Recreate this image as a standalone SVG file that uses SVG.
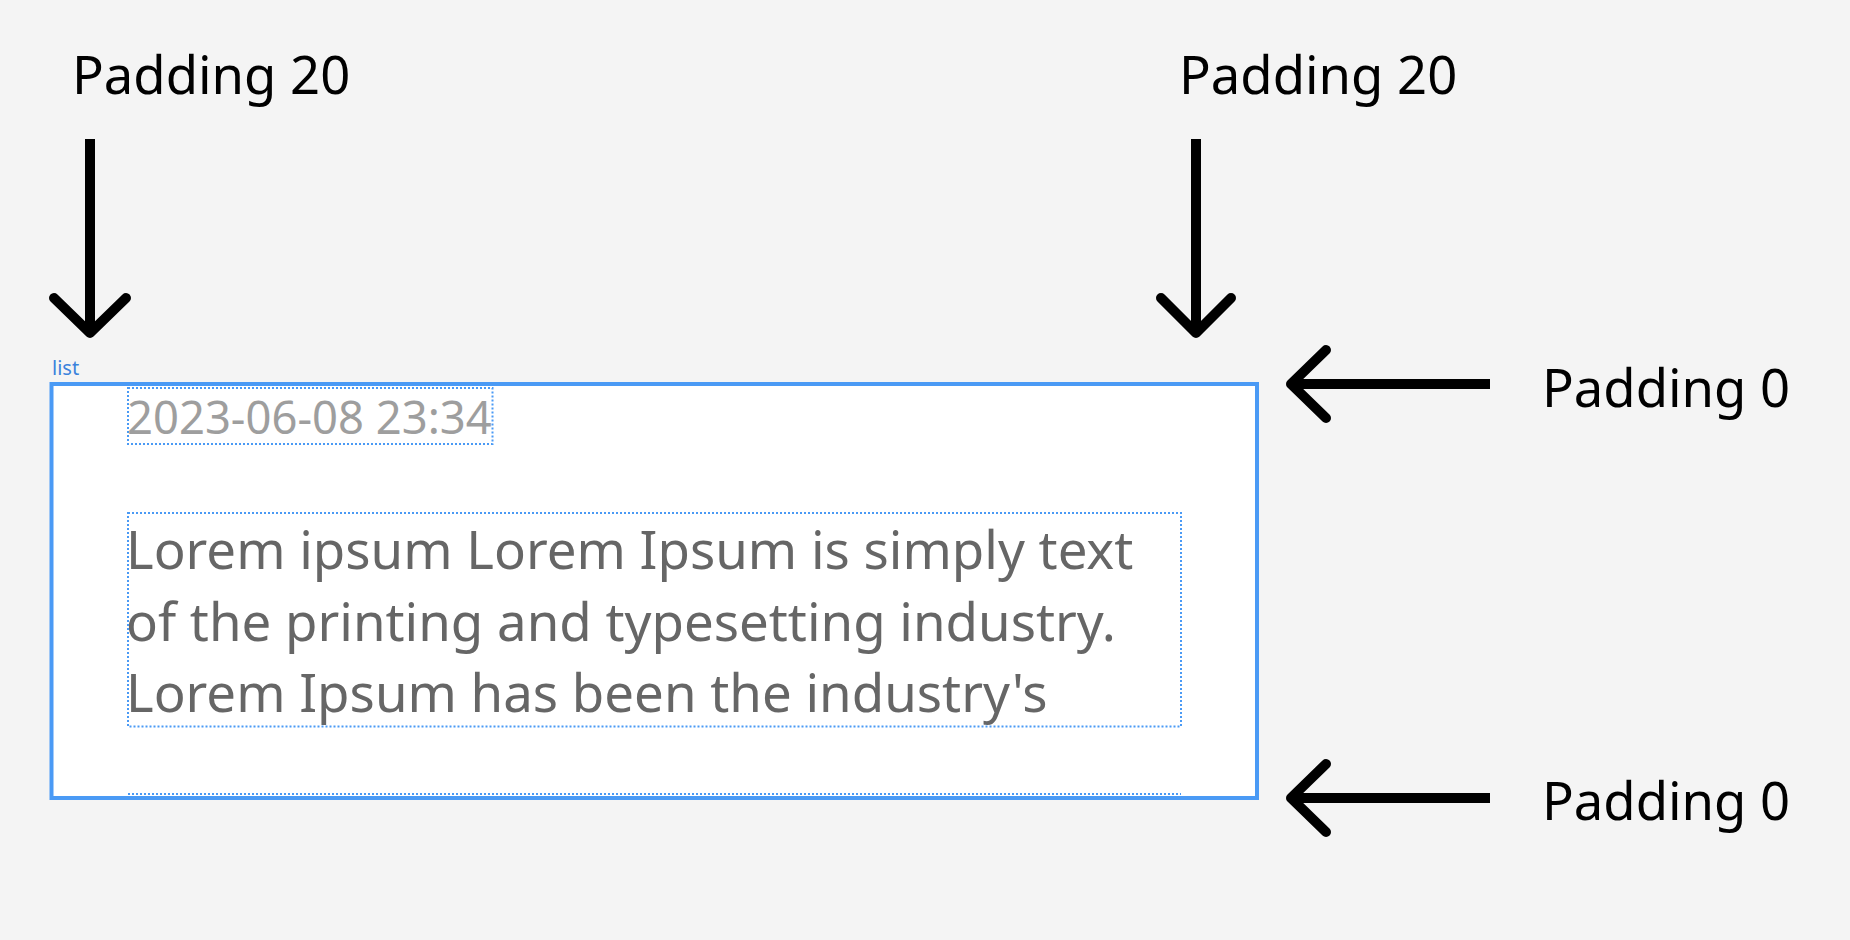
<svg xmlns="http://www.w3.org/2000/svg" width="1850" height="940" viewBox="0 0 1850 940">
<style>
.lbl{font-family:"Noto Sans","Open Sans",sans-serif;fill:#000;font-size:52.6px}
.date{font-family:"Noto Sans","Open Sans",sans-serif;fill:#9e9e9e;font-size:45.4px}
.body{font-family:"Noto Sans","Open Sans",sans-serif;fill:#666666;font-size:52.8px}
.tag{font-family:"Noto Sans","Open Sans",sans-serif;fill:#3b82dc;font-size:20px}
.dot{fill:none;stroke:#4a9af5;stroke-width:2;stroke-dasharray:2 2}
.shaft{stroke:#000;stroke-width:10;fill:none;stroke-linecap:butt}
.head{stroke:#000;stroke-width:10;fill:none;stroke-linecap:round;stroke-linejoin:round}
</style>
<rect x="0" y="0" width="1850" height="940" fill="#f4f4f4"/>
<g id="list">
<text class="tag" x="52" y="375">list</text>
<rect x="51.5" y="384" width="1205.5" height="414" fill="#ffffff" stroke="#4a9af5" stroke-width="4"/>
</g>
<g id="date">
<rect class="dot" x="128" y="388" width="364.5" height="56"/>
<text class="date" x="127" y="434">2023-06-08 23:34</text>
</g>
<g id="body">
<rect class="dot" x="128" y="513" width="1053" height="213.5"/>
<text class="body" x="126" y="569">Lorem ipsum Lorem Ipsum is simply text</text>
<text class="body" x="126" y="641">of the printing and typesetting industry.</text>
<text class="body" x="126" y="712">Lorem Ipsum has been the industry's</text>
</g>
<g id="next-item">
<line class="dot" x1="128" y1="794" x2="1181" y2="794"/>
</g>
<g id="label-top-left"><text class="lbl" x="72" y="94">Padding 20</text></g>
<g id="label-top-right"><text class="lbl" x="1179" y="94">Padding 20</text></g>
<g id="label-right-top"><text class="lbl" x="1542" y="407">Padding 0</text></g>
<g id="label-right-bottom"><text class="lbl" x="1542" y="820">Padding 0</text></g>
<g id="connectors">
<line class="shaft" x1="90" y1="139" x2="90" y2="330"/>
<polyline class="head" points="54,298 90,333 126,298"/>
<line class="shaft" x1="1196" y1="139" x2="1196" y2="330"/>
<polyline class="head" points="1161,298 1196,333 1231,298"/>
<line class="shaft" x1="1294" y1="384" x2="1490" y2="384"/>
<polyline class="head" points="1326,350 1291,384 1326,418"/>
<line class="shaft" x1="1294" y1="798" x2="1490" y2="798"/>
<polyline class="head" points="1326,764 1291,798 1326,832"/>
</g>
</svg>
